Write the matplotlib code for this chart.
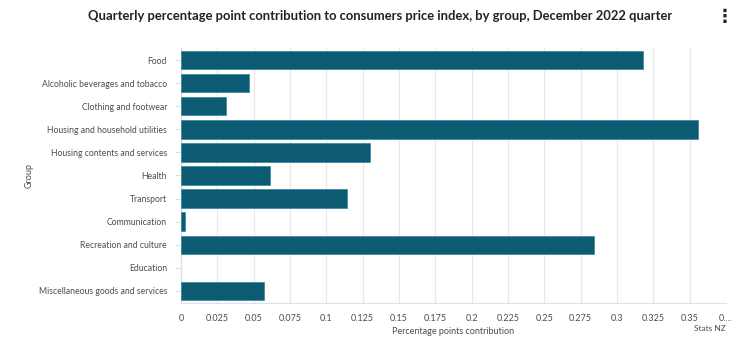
import matplotlib
matplotlib.use("Agg")
import matplotlib.pyplot as plt

groups = [
    "Food",
    "Alcoholic beverages and tobacco",
    "Clothing and footwear",
    "Housing and household utilities",
    "Housing contents and services",
    "Health",
    "Transport",
    "Communication",
    "Recreation and culture",
    "Education",
    "Miscellaneous goods and services",
]
contribution = [0.318, 0.047, 0.031, 0.356, 0.130, 0.061, 0.114, 0.003, 0.284, 0.0, 0.057]
xticks = [0, 0.025, 0.05, 0.075, 0.1, 0.125, 0.15, 0.175, 0.2, 0.225, 0.25, 0.275, 0.3, 0.325, 0.35, 0.375]
xtick_labels = ["0", "0.025", "0.05", "0.075", "0.1", "0.125", "0.15", "0.175", "0.2",
                "0.225", "0.25", "0.275", "0.3", "0.325", "0.35", "0...."]

plt.rcParams["font.family"] = ["Lato", "DejaVu Sans"]
text_col = "#4d4d4d"
bar_col = "#0c5b72"
grid_col = "#e8e8ec"

fig = plt.figure(figsize=(7.52, 3.53), dpi=100)
ax = fig.add_axes([0.2407, 0.143, 0.7247, 0.7197])

y = list(range(len(groups)))
edges = ["none" if v == 0 else "#3f8ea3" for v in contribution]
ax.barh(y, contribution, height=0.8, color=bar_col, edgecolor=edges, linewidth=0.6, zorder=3)
ax.set_ylim(len(groups) - 0.5, -0.5)
ax.set_xlim(0, 0.375)

ax.set_yticks(y)
ax.set_yticklabels(groups, fontsize=6.2, color=text_col)
ax.set_xticks(xticks)
ax.set_xticklabels(xtick_labels, fontsize=6.5, color=text_col)
ax.tick_params(axis="y", length=4, color="#d8dce6", pad=6)
ax.tick_params(axis="x", length=0, pad=8)

ax.grid(axis="x", color=grid_col, linewidth=0.9, zorder=0)
for side in ["top", "right"]:
    ax.spines[side].set_visible(False)
ax.spines["left"].set_color("#dde1ea")
ax.spines["bottom"].set_color("#dde1ea")
ax.spines["left"].set_linewidth(0.9)
ax.spines["bottom"].set_linewidth(0.9)

ax.set_xlabel("Percentage points contribution", fontsize=6.5, color=text_col, labelpad=3)
ax.set_ylabel("Group", fontsize=6.5, color=text_col, labelpad=0)
ax.yaxis.set_label_coords(-0.27, 0.5)

fig.text(0.505, 0.955, "Quarterly percentage point contribution to consumers price index, by group, December 2022 quarter",
         ha="center", va="center", fontsize=9.4, fontweight="bold", color="#222222")
fig.text(0.964, 0.952, "\u22ee", ha="center", va="center", fontsize=13, fontweight="bold", color="#222222",
         family="DejaVu Sans")
fig.text(0.965, 0.068, "Stats NZ", ha="right", va="center", fontsize=6, color=text_col)

fig.savefig("out.png", dpi=100)
